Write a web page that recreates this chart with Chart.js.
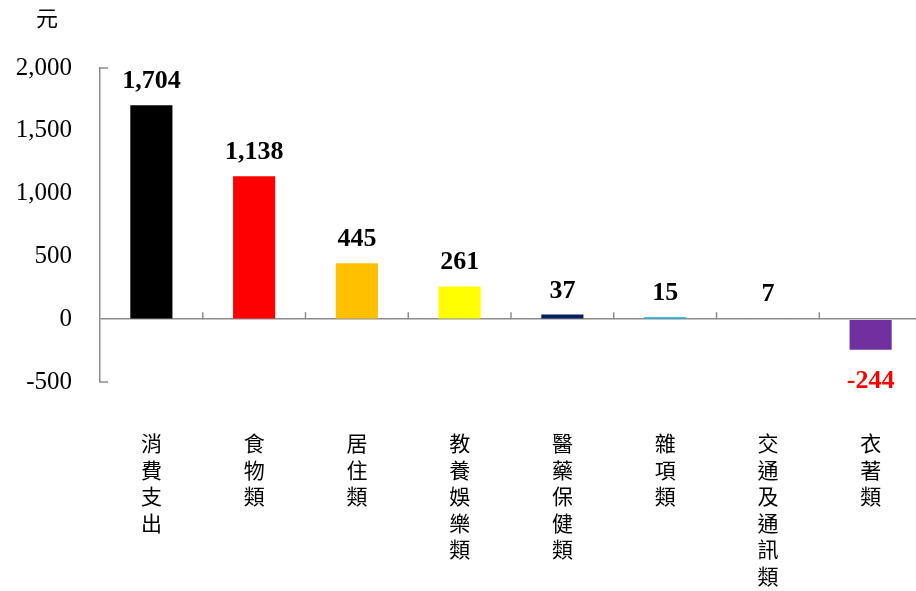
<!DOCTYPE html>
<html>
<head>
<meta charset="utf-8">
<script src="https://cdn.jsdelivr.net/npm/chart.js@4"></script>
<style>
  html, body { margin: 0; padding: 0; background: #ffffff; overflow: hidden; }
  #wrap { width: 922px; height: 591px; }
</style>
</head>
<body>
<div id="wrap"><canvas id="chart"></canvas></div>
<script>
const categories = ['消費支出', '食物類', '居住類', '教養娛樂類', '醫藥保健類', '雜項類', '交通及通訊類', '衣著類'];
const values = [1704, 1138, 445, 261, 37, 15, 7, -244];
const barColors = ['#000000', '#FF0000', '#FFC000', '#FFFF00', '#002060', '#00B0F0', '#6F8A80', '#7030A0'];
const yTicks = [-500, 0, 500, 1000, 1500, 2000];
const unitLabel = '元';

const AXIS_GREY = '#8C8C8C';

// vertical labels: one character per line
const verticalLabels = categories.map(c => Array.from(c));

const extrasPlugin = {
    id: 'extras',
    afterDatasetsDraw(chart) {
        const ctx = chart.ctx;
        const x = chart.scales.x;
        const y = chart.scales.y;
        const zeroY = y.getPixelForValue(0);
        ctx.save();
        ctx.strokeStyle = AXIS_GREY;
        ctx.lineWidth = 1.5;
        // category boundary tick marks on the zero line
        for (let i = 1; i < categories.length; i++) {
            const bx = (x.getPixelForValue(i - 1) + x.getPixelForValue(i)) / 2;
            ctx.beginPath();
            ctx.moveTo(bx, zeroY);
            ctx.lineTo(bx, zeroY - 7);
            ctx.stroke();
        }
        // end caps on the value axis
        for (const v of [y.min, y.max]) {
            const py = y.getPixelForValue(v);
            ctx.beginPath();
            ctx.moveTo(chart.chartArea.left, py);
            ctx.lineTo(chart.chartArea.left + 8, py);
            ctx.stroke();
        }
        // value labels
        const meta = chart.getDatasetMeta(0);
        ctx.font = 'bold 26px "Liberation Serif", "Times New Roman", serif';
        ctx.textAlign = 'center';
        meta.data.forEach((bar, i) => {
            const v = values[i];
            if (v >= 0) {
                ctx.fillStyle = '#000000';
                ctx.textBaseline = 'alphabetic';
                ctx.fillText(v.toLocaleString('en-US'), bar.x, bar.y - 17);
            } else {
                ctx.fillStyle = '#FF0000';
                ctx.textBaseline = 'top';
                ctx.fillText(v.toLocaleString('en-US'), bar.x, bar.y + 18);
            }
        });
        // unit
        ctx.fillStyle = '#000000';
        ctx.font = '22px "Noto Sans CJK TC", sans-serif';
        ctx.textAlign = 'left';
        ctx.textBaseline = 'top';
        ctx.fillText(unitLabel, 36, 7);
        ctx.restore();
    }
};

new Chart(document.getElementById('chart'), {
    type: 'bar',
    data: {
        labels: verticalLabels,
        datasets: [{
            data: values,
            backgroundColor: barColors,
            borderWidth: 0,
            categoryPercentage: 1.0,
            barPercentage: 0.41
        }]
    },
    options: {
        responsive: true,
        maintainAspectRatio: false,
        animation: false,
        layout: {
            padding: { top: 68, right: 0, bottom: 0, left: 0 }
        },
        plugins: {
            legend: { display: false },
            tooltip: { enabled: false }
        },
        scales: {
            x: {
                offset: true,
                grid: { display: false },
                border: { display: false },
                ticks: {
                    maxRotation: 0,
                    autoSkip: false,
                    padding: 40,
                    color: '#000000',
                    font: { family: '"Noto Sans CJK TC", sans-serif', size: 21, lineHeight: 1.26 }
                },
                afterFit(scale) {
                    scale.height = 209;
                    scale.paddingLeft = 0;
                    scale.paddingRight = 0;
                }
            },
            y: {
                min: -500,
                max: 2000,
                afterBuildTicks(scale) { scale.ticks = yTicks.map(v => ({ value: v })); },
                grid: {
                    drawTicks: false,
                    color: ctx => ctx.tick && ctx.tick.value === 0 ? AXIS_GREY : 'rgba(0,0,0,0)',
                    lineWidth: 1.5
                },
                border: { display: true, color: AXIS_GREY, width: 1.5 },
                ticks: {
                    padding: 28,
                    color: '#000000',
                    font: { family: '"Liberation Serif", "Times New Roman", serif', size: 25 },
                    callback: v => v.toLocaleString('en-US')
                },
                afterFit(scale) { scale.width = 100; }
            }
        }
    },
    plugins: [extrasPlugin]
});
</script>
</body>
</html>
